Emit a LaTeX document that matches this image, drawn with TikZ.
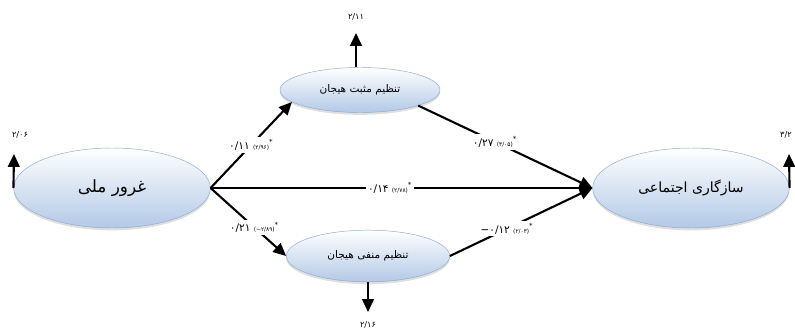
\documentclass[tikz,border=0pt]{standalone}
\usepackage{fontspec}
\newfontfamily\farsi[Script=Arabic]{DejaVu Sans}
\newfontfamily\farsinum{DejaVu Sans}
\TeXXeTstate=1
\usetikzlibrary{shapes.geometric,arrows.meta,shadows}
\definecolor{varline}{RGB}{141,170,210}
\definecolor{varfill}{RGB}{178,201,230}
\begin{document}
\begin{tikzpicture}[x=0.3mm,y=-0.3mm,
  var/.style={ellipse,draw=varline,top color=white,bottom color=varfill,
    drop shadow={opacity=0.25,shadow xshift=0pt,shadow yshift=-2pt},inner sep=0pt,font=\farsi\small},
  eff/.style={line width=1.8pt,-{Triangle[length=11pt,width=10pt]}},
  coef/.style={fill=white,inner sep=2pt,font=\farsinum\small},
  res/.style={font=\farsinum\scriptsize}]
\useasboundingbox (0,0) rectangle (795,331);
\node[var,minimum width=59mm,minimum height=24mm,font=\farsi\Large] (pride) at (112,188) {\beginR غرور ملی\endR};
\node[var,minimum width=48mm,minimum height=13.5mm] (posreg) at (360,90) {\beginR تنظیم مثبت هیجان\endR};
\node[var,minimum width=49mm,minimum height=15.5mm] (negreg) at (368,256) {\beginR تنظیم منفی هیجان\endR};
\node[var,minimum width=59mm,minimum height=24mm,font=\farsi\large] (adjust) at (691,188) {\beginR سازگاری اجتماعی\endR};
\draw[eff] (pride.east) -- node[coef,pos=0.5] {۰/۱۱ {\tiny (۲/۹۶)}\textsuperscript{*}} (posreg.190);
\draw[eff] (posreg.-15) -- node[coef,pos=0.44] {۰/۲۷ {\tiny (۳/۰۵)}\textsuperscript{*}} (adjust.west);
\draw[eff] (pride.east) -- node[coef,pos=0.47] {۰/۱۴ {\tiny (۲/۷۸)}\textsuperscript{*}} (adjust.west);
\draw[eff] (pride.east) -- node[coef,pos=0.58] {۰/۲۱ {\tiny (−۲/۸۹)}\textsuperscript{*}} (negreg.west);
\draw[eff] (negreg.east) -- node[coef,pos=0.4] {−۰/۱۲ {\tiny (۲/۰۳)}\textsuperscript{*}} (adjust.west);
\coordinate (pridee) at (14,154);
\coordinate (posrege) at (356,33);
\coordinate (adjuste) at (789,154);
\coordinate (negrege) at (368,312);
\draw[eff] (pride.west) -- (pridee);
\draw[eff] (posreg.north -| posrege) -- (posrege);
\draw[eff] (adjust.east) -- (adjuste);
\draw[eff] (negreg.south) -- (negrege);
\node[res] (pridelab) at (20,135) {۲/۰۶};
\node[res] (posreglab) at (356,17) {۲/۱۱};
\node[res] (adjustlab) at (786,135) {۳/۲};
\node[res] (negreglab) at (368,325) {۲/۱۶};
\end{tikzpicture}
\end{document}
